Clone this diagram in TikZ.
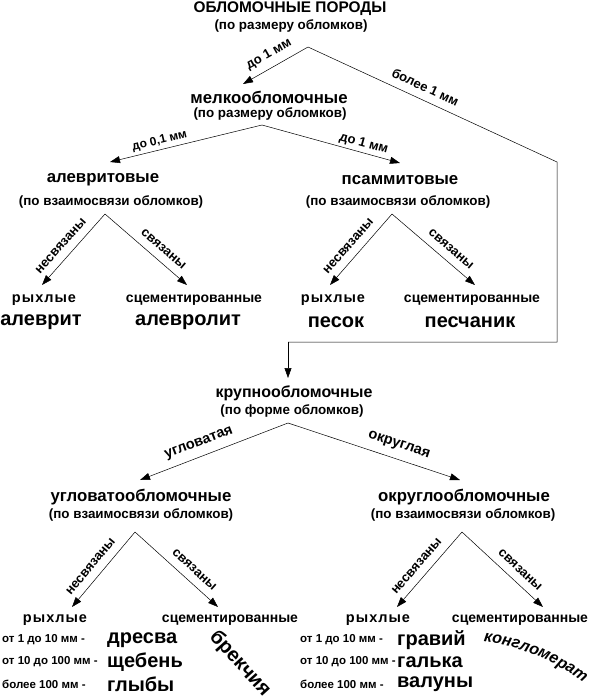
\documentclass[tikz,border=0pt]{standalone}
\usepackage{fontspec}
\setmainfont{Liberation Sans}
\usetikzlibrary{arrows.meta, decorations.text}

\begin{document}
\begin{tikzpicture}[x=1pt,y=-1pt,
  head/.style={inner sep=0pt, font=\fontsize{16.8}{19}\selectfont\bfseries},
  sub/.style={inner sep=0pt, font=\fontsize{13.4}{15}\selectfont\bfseries},
  kind/.style={inner sep=0pt, font=\fontsize{14}{16}\selectfont\bfseries},
  loose/.style={kind, font=\fontsize{14.5}{16}\selectfont\bfseries\addfontfeature{LetterSpace=7}},
  rock/.style={inner sep=0pt, font=\fontsize{20}{22}\selectfont\bfseries},
  sizerow/.style={inner sep=0pt, anchor=west, font=\fontsize{11.5}{14}\selectfont\bfseries},
  lbl/.style={inner sep=0pt, sloped, above=3pt, font=\fontsize{13}{15}\selectfont\bfseries},
  bond/.style={lbl, above=5pt},
  arr/.style={line width=0.5pt, -{Triangle[length=10pt,width=7pt]}},
  link/.style={line width=0.5pt}]
  \path[use as bounding box] (0,0) rectangle (594,699);

  % top level
  \node[inner sep=0pt, font=\fontsize{15.4}{18}\selectfont\bfseries] (title) at (290,9) {ОБЛОМОЧНЫЕ ПОРОДЫ};
  \node[sub] (titleSub) at (291,26) {(по размеру обломков)};
  \coordinate (topFork) at (308,47);

  % fine fragments
  \node[head] (fine) at (269,97) {мелкообломочные};
  \node[sub] (fineSub) at (270,114) {(по размеру обломков)};
  \coordinate (fineIn) at (243,84);
  \coordinate (fineFork) at (262,125);

  \node[head] (silt) at (103,180) {алевритовые};
  \node[sub] (siltSub) at (111,202) {(по взаимосвязи обломков)};
  \coordinate (siltIn) at (110,162);
  \coordinate (siltFork) at (105,214);
  \node[loose] (siltLoose) at (44,300) {рыхлые};
  \node[kind] (siltCem) at (194,300) {сцементированные};
  \node[rock] (siltRock) at (41,322) {алеврит};
  \node[rock] (siltStone) at (188,322) {алевролит};
  \coordinate (siltLooseIn) at (42,285);
  \coordinate (siltCemIn) at (187,285);

  \node[head] (psam) at (400,180) {псаммитовые};
  \node[sub] (psamSub) at (398,202) {(по взаимосвязи обломков)};
  \coordinate (psamIn) at (400,163);
  \coordinate (psamFork) at (392,214);
  \node[loose] (psamLoose) at (333,300) {рыхлые};
  \node[kind] (psamCem) at (472,300) {сцементированные};
  \node[rock] (sand) at (336,322) {песок};
  \node[rock] (sandstone) at (470,322) {песчаник};
  \coordinate (psamLooseIn) at (330,285);
  \coordinate (psamCemIn) at (475,285);

  % coarse fragments
  \coordinate (bendA) at (557,162);
  \coordinate (bendB) at (557,342);
  \coordinate (bendC) at (288,342);
  \node[head, font=\fontsize{16}{19}\selectfont\bfseries] (coarse) at (294,393) {крупнообломочные};
  \node[sub] (coarseSub) at (292,411) {(по форме обломков)};
  \coordinate (coarseIn) at (288,378);
  \coordinate (coarseFork) at (288,423);

  \node[head] (ang) at (141,497) {угловатообломочные};
  \node[sub] (angSub) at (141,515) {(по взаимосвязи обломков)};
  \coordinate (angIn) at (140,480);
  \coordinate (angFork) at (135,532);
  \node[loose] (angLoose) at (55,620) {рыхлые};
  \node[kind] (angCem) at (230,620) {сцементированные};
  \coordinate (angLooseIn) at (72,607);
  \coordinate (angCemIn) at (218,607);
  \node[sizerow] (angS1) at (2,640) {от 1 до 10 мм -};
  \node[sizerow] (angS2) at (2,662) {от 10 до 100 мм -};
  \node[sizerow] (angS3) at (2,684) {более 100 мм -};
  \node[rock, anchor=west] (dresva) at (107,640) {дресва};
  \node[rock, anchor=west] (shcheben) at (107,662) {щебень};
  \node[rock, anchor=west] (glyby) at (107,684) {глыбы};
  \node[rock, rotate=-48] (breccia) at (240,664) {брекчия};

  \node[head] (rnd) at (464,497) {округлообломочные};
  \node[sub] (rndSub) at (463,515) {(по взаимосвязи обломков)};
  \coordinate (rndIn) at (460,480);
  \coordinate (rndFork) at (462,532);
  \node[loose] (rndLoose) at (378,620) {рыхлые};
  \node[kind] (rndCem) at (520,620) {сцементированные};
  \coordinate (rndLooseIn) at (397,607);
  \coordinate (rndCemIn) at (543,607);
  \node[sizerow] (rndS1) at (300,640) {от 1 до 10 мм -};
  \node[sizerow] (rndS2) at (300,662) {от 10 до 100 мм -};
  \node[sizerow] (rndS3) at (300,684) {более 100 мм -};
  \node[rock, anchor=west] (gravel) at (397,640) {гравий};
  \node[rock, anchor=west] (pebble) at (397,662) {галька};
  \node[rock, anchor=west] (boulder) at (397,684) {валуны};
  \path[decorate, decoration={text along path, text align=center,
      text={|\fontsize{16}{16}\selectfont\bfseries\itshape|конгломерат}}]
    (478,641) .. controls (516,644) and (554,660) .. (588,686);

  % connectors
  \draw[arr] (topFork) -- node[lbl, above=4pt] {до 1 мм} (fineIn);
  \draw[link] (topFork) -- node[lbl, pos=0.45, above=5pt] {более 1 мм} (bendA) -- (bendB) -- (bendC);
  \draw[arr] (bendC) -- (coarseIn);
  \draw[arr] (fineFork) -- node[lbl, pos=0.66, font=\fontsize{12}{14}\selectfont\bfseries] {до 0,1 мм} (siltIn);
  \draw[arr] (fineFork) -- node[lbl, pos=0.72] {до 1 мм} (psamIn);
  \draw[arr] (siltFork) -- node[bond, pos=0.56] {несвязаны} (siltLooseIn);
  \draw[arr] (siltFork) -- node[bond, pos=0.62] {связаны} (siltCemIn);
  \draw[arr] (psamFork) -- node[bond, pos=0.56] {несвязаны} (psamLooseIn);
  \draw[arr] (psamFork) -- node[bond, pos=0.62] {связаны} (psamCemIn);
  \draw[arr] (coarseFork) -- node[lbl, pos=0.57, above=4pt, font=\fontsize{14.5}{17}\selectfont\bfseries] {угловатая} (angIn);
  \draw[arr] (coarseFork) -- node[lbl, pos=0.62, above=5pt, font=\fontsize{14.5}{17}\selectfont\bfseries] {округлая} (rndIn);
  \draw[arr] (angFork) -- node[bond, pos=0.56] {несвязаны} (angLooseIn);
  \draw[arr] (angFork) -- node[bond, pos=0.62] {связаны} (angCemIn);
  \draw[arr] (rndFork) -- node[bond, pos=0.56] {несвязаны} (rndLooseIn);
  \draw[arr] (rndFork) -- node[bond, pos=0.62] {связаны} (rndCemIn);
\end{tikzpicture}
\end{document}
